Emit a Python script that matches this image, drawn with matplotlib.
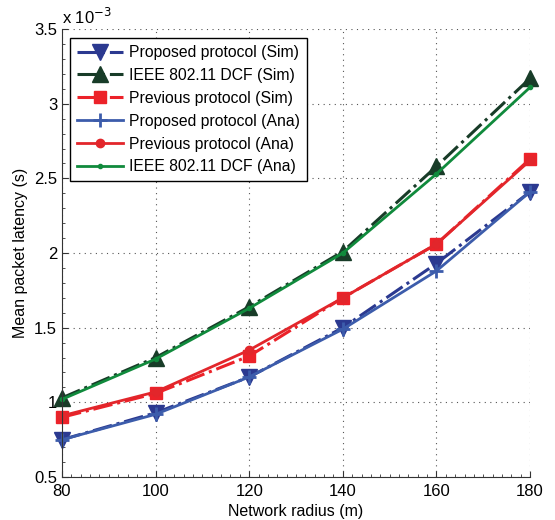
import numpy as np
import matplotlib
matplotlib.use('Agg')
import matplotlib.pyplot as plt
from matplotlib.ticker import MultipleLocator

plt.rcParams['font.family'] = ['Liberation Sans', 'DejaVu Sans']

# network radius (m)
radius = [80, 100, 120, 140, 160, 180]

# mean packet latency, in units of 1e-3 s
proposed_sim = [0.75, 0.93, 1.17, 1.50, 1.93, 2.41]
ieee_sim = [1.03, 1.30, 1.64, 2.01, 2.58, 3.17]
previous_sim = [0.90, 1.06, 1.31, 1.70, 2.06, 2.63]
proposed_ana = [0.75, 0.92, 1.17, 1.49, 1.88, 2.41]
previous_ana = [0.91, 1.07, 1.35, 1.70, 2.06, 2.62]
ieee_ana = [1.02, 1.29, 1.63, 2.00, 2.53, 3.11]

fig = plt.figure(figsize=(5.55, 5.2), dpi=100)
ax = fig.add_axes([0.1117, 0.0827, 0.8433, 0.8613])

ax.plot(radius, proposed_sim, '-.', color='#2b3990', lw=2.2, clip_on=False,
        marker='v', ms=12, label='Proposed protocol (Sim)')
ax.plot(radius, ieee_sim, '-.', color='#183c28', lw=2.2, clip_on=False,
        marker='^', ms=12, label='IEEE 802.11 DCF (Sim)')
ax.plot(radius, previous_sim, '-.', color='#ec2229', lw=2.2, clip_on=False,
        marker='s', ms=9, label='Previous protocol (Sim)')
ax.plot(radius, proposed_ana, '-', color='#3c5cab', lw=2.0, clip_on=False,
        marker='+', ms=10, mew=2, label='Proposed protocol (Ana)')
ax.plot(radius, previous_ana, '-', color='#e2262b', lw=2.0, clip_on=False,
        marker='o', ms=6, label='Previous protocol (Ana)')
ax.plot(radius, ieee_ana, '-', color='#108a3c', lw=2.0, clip_on=False,
        marker='.', ms=6, label='IEEE 802.11 DCF (Ana)')

ax.set_xlim(80, 180)
ax.set_ylim(0.5, 3.5)
ax.set_xticks([80, 100, 120, 140, 160, 180])
ax.set_yticks([0.5, 1, 1.5, 2, 2.5, 3, 3.5])
ax.set_yticklabels(['0.5', '1', '1.5', '2', '2.5', '3', '3.5'])
ax.xaxis.set_minor_locator(MultipleLocator(2))
ax.yaxis.set_minor_locator(MultipleLocator(0.1))
ax.tick_params(which='both', direction='in', labelsize=12, colors='#333333',
               labelcolor='black')
ax.tick_params(which='major', length=4)
ax.tick_params(which='minor', length=2)
ax.tick_params(axis='x', pad=5)

ax.spines['top'].set_visible(False)
ax.spines['right'].set_visible(False)
for s in ('left', 'bottom'):
    ax.spines[s].set_color('#333333')
    ax.spines[s].set_linewidth(0.8)
ax.grid(True, which='major', linestyle=(0, (1, 4)), color='#555555', lw=0.8)

ax.text(0.0, 1.005, r'x 10$^{-3}$', transform=ax.transAxes, fontsize=12,
        ha='left', va='bottom')

ax.set_xlabel('Network radius (m)', fontsize=11.5)
ax.set_ylabel('Mean packet latency (s)', fontsize=11.5)

leg = ax.legend(loc='upper left', bbox_to_anchor=(0.017, 0.98), fontsize=11.3,
                handlelength=2.9, handletextpad=0.4, labelspacing=0.5,
                borderpad=0.45, borderaxespad=0, fancybox=False, framealpha=1)
leg.get_frame().set_edgecolor('black')
leg.get_frame().set_linewidth(1.0)

fig.savefig('out.png', dpi=100)
